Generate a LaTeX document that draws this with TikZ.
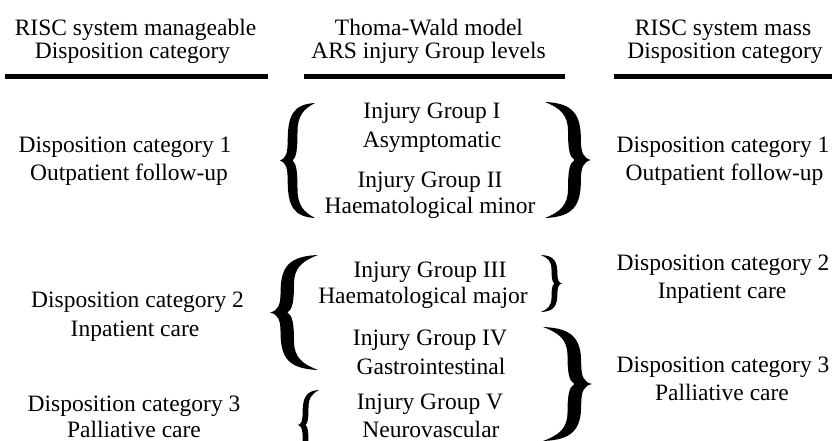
\documentclass[tikz,border=0pt]{standalone}
\usepackage{fontspec}
\setmainfont{Liberation Serif}
\tikzset{
  txt/.style={anchor=base,inner sep=0pt,font=\fontsize{23.5}{28}\selectfont},
  bar/.style={fill=black},
  lbrace/.pic={
    \fill[black] (0,0) .. controls (0.16,0.03) and (0.22,0.12) .. (0.22,0.35)
      .. controls (0.22,0.8) and (0.4,0.98) .. (1,1)
      .. controls (0.68,0.9) and (0.5,0.78) .. (0.5,0.5)
      .. controls (0.5,0.2) and (0.47,0.05) .. (0.36,0)
      .. controls (0.47,-0.05) and (0.5,-0.2) .. (0.5,-0.5)
      .. controls (0.5,-0.78) and (0.68,-0.9) .. (1,-1)
      .. controls (0.4,-0.98) and (0.22,-0.8) .. (0.22,-0.35)
      .. controls (0.22,-0.12) and (0.16,-0.03) .. (0,0) -- cycle;
  }
}
\begin{document}
\begin{tikzpicture}[x=1pt,y=-1pt]
\useasboundingbox (0,0) rectangle (832,441);
\clip (0,0) rectangle (832,441);
% headers
\node[txt] (h1a) at (135.5,36) {RISC system manageable};
\node[txt] (h1b) at (132.5,59) {Disposition category};
\node[txt] (h2a) at (429,36) {Thoma-Wald model};
\node[txt] (h2b) at (428.5,59) {ARS injury Group levels};
\node[txt] (h3a) at (723,36) {RISC system mass};
\node[txt] (h3b) at (725,59) {Disposition category};
\fill[bar] (5,74) rectangle (268,79);
\fill[bar] (304,74) rectangle (565,79);
\fill[bar] (614,74) rectangle (832,79);
% left column
\node[txt] (l1a) at (125,152) {Disposition category 1};
\node[txt] (l1b) at (129,180) {Outpatient follow-up};
\node[txt] (l2a) at (137.5,307) {Disposition category 2};
\node[txt] (l2b) at (135,336) {Inpatient care};
\node[txt] (l3a) at (134,411) {Disposition category 3};
\node[txt] (l3b) at (134,437.5) {Palliative care};
% middle column
\node[txt] (m1a) at (432,118.5) {Injury Group I};
\node[txt] (m1b) at (432,147) {Asymptomatic};
\node[txt] (m2a) at (430,187) {Injury Group II};
\node[txt] (m2b) at (430,213) {Haematological minor};
\node[txt] (m3a) at (430,277) {Injury Group III};
\node[txt] (m3b) at (423,303) {Haematological major};
\node[txt] (m4a) at (430,345) {Injury Group IV};
\node[txt] (m4b) at (431,374) {Gastrointestinal};
\node[txt] (m5a) at (430,409) {Injury Group V};
\node[txt] (m5b) at (431,437) {Neurovascular};
% right column
\node[txt] (r1a) at (723,152) {Disposition category 1};
\node[txt] (r1b) at (724.5,180) {Outpatient follow-up};
\node[txt] (r2a) at (723,270) {Disposition category 2};
\node[txt] (r2b) at (722,298) {Inpatient care};
\node[txt] (r3a) at (723,372) {Disposition category 3};
\node[txt] (r3b) at (722,400) {Palliative care};
% braces
\pic[xscale=35,yscale=57.5] at (280,160.5) {lbrace};
\pic[xscale=-46,yscale=58] at (591,160) {lbrace};
\pic[xscale=48,yscale=57.5] at (270,312.5) {lbrace};
\pic[xscale=-21,yscale=28.5] at (562,283.5) {lbrace};
\pic[xscale=-49,yscale=57] at (592,384) {lbrace};
\pic[xscale=21,yscale=35] at (298,425) {lbrace};
\end{tikzpicture}
\end{document}
